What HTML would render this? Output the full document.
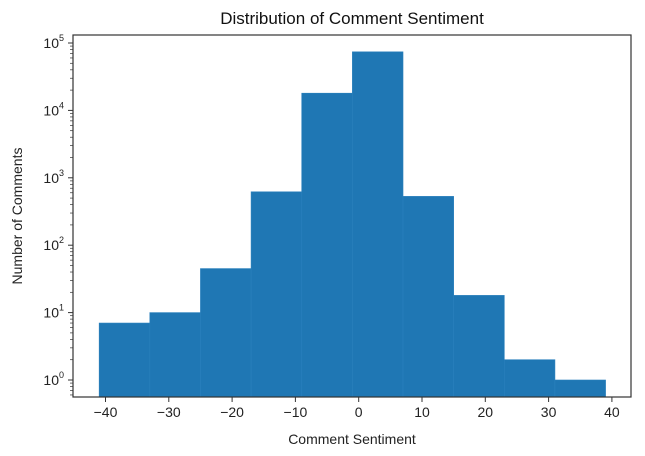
<!DOCTYPE html>
<html><head><meta charset="utf-8"><style>
body{margin:0;background:#fff;font-family:"Liberation Sans","DejaVu Sans",sans-serif;}
svg{display:block}
</style></head><body>
<svg width="645" height="456" id="chart">
<text x="352" y="24" text-anchor="middle" font-size="17" fill="#111">Distribution of Comment Sentiment</text>
<text x="352" y="444" text-anchor="middle" font-size="14" fill="#222">Comment Sentiment</text>
<text transform="translate(22,216) rotate(-90)" text-anchor="middle" font-size="14" fill="#222">Number of Comments</text>
<g id="bars"></g><g id="axes"></g>
</svg>
<script>
const binEdges=[-41,-33,-25,-17,-9,-1,7,15,23,31,39];
const counts=[7,10,45,620,18000,74000,530,18,2,1];
const xTicks=[-40,-30,-20,-10,0,10,20,30,40];
const yTickExps=[0,1,2,3,4,5];
const L=73,R=631,T=35,B=397;
const x=v=>358.7+6.33*v;
const y=v=>380-67.4*Math.log10(v);
const NS="http://www.w3.org/2000/svg";
const bars=document.getElementById('bars'),axes=document.getElementById('axes');
function mk(t,a,p){const e=document.createElementNS(NS,t);for(const k in a)e.setAttribute(k,a[k]);p.appendChild(e);return e;}
counts.forEach((c,i)=>{
 const r=mk('rect',{x:x(binEdges[i]),y:y(c),width:x(binEdges[i+1])-x(binEdges[i]),height:B-y(c),fill:'#1f77b4',stroke:'#2a80bd','stroke-width':0.6},bars);
 
 
});
const frame=mk('rect',{x:L,y:T,width:R-L,height:B-T,fill:'none',stroke:'#333','stroke-width':1.2},axes);


xTicks.forEach(v=>{
 mk('line',{x1:x(v),x2:x(v),y1:B,y2:B+5,stroke:'#333'},axes);
 const t=mk('text',{x:x(v),y:B+20,'text-anchor':'middle','font-size':14,fill:'#222'},axes);
 t.textContent=(v<0?'\u2212'+(-v):v);
 
 
});
yTickExps.forEach(e=>{
 const yy=y(Math.pow(10,e));
 mk('line',{x1:L-5,x2:L,y1:yy,y2:yy,stroke:'#333'},axes);
 const t=mk('text',{x:L-9,y:yy+5,'text-anchor':'end','font-size':14,fill:'#222'},axes);
 t.innerHTML='10<tspan font-size="9" dy="-7">'+e+'</tspan>';
 
 
 for(let m=2;m<10;m++){const my=y(m*Math.pow(10,e));if(my>T&&my<B)mk('line',{x1:L-3,x2:L,y1:my,y2:my,stroke:'#333','stroke-width':0.7},axes);}
});
for(let m=6;m<10;m++){const my=y(m/10);if(my<B)mk('line',{x1:L-3,x2:L,y1:my,y2:my,stroke:'#333','stroke-width':0.7},axes);}
</script>
</body></html>
